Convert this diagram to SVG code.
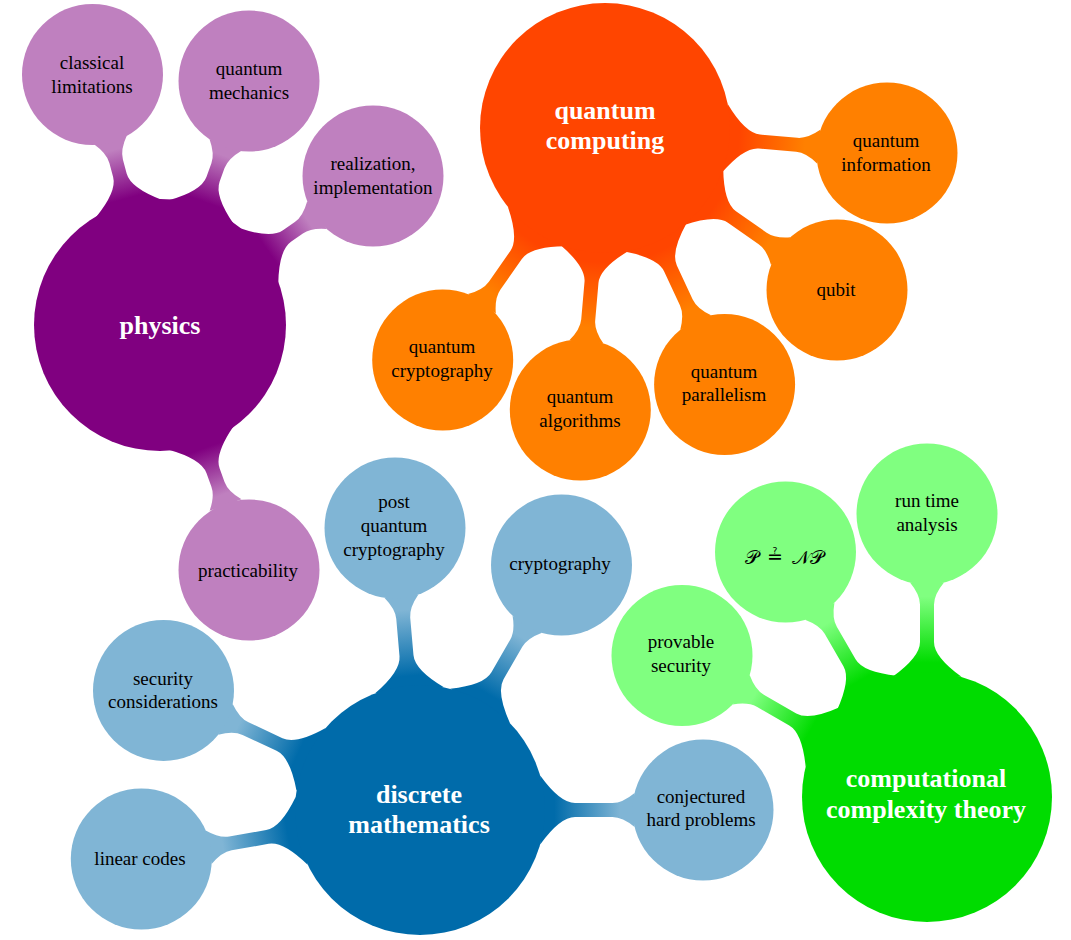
<svg xmlns="http://www.w3.org/2000/svg" width="1071" height="940" viewBox="0 0 1071 940">
<style>
.c{font-family:"Liberation Serif","Times New Roman",serif;font-size:19px;fill:#000;text-anchor:middle}
.r{font-family:"Liberation Serif","Times New Roman",serif;font-size:26px;font-weight:bold;fill:#fff;text-anchor:middle}
.m{font-family:"DejaVu Serif","DejaVu Sans","Liberation Serif",serif;font-size:19px;fill:#000;text-anchor:middle}
</style>
<defs>
<linearGradient id="gP"><stop offset="0.15" stop-color="#800080"/><stop offset="0.85" stop-color="#BF80BF"/></linearGradient>
<linearGradient id="gQ"><stop offset="0.15" stop-color="#FF4500"/><stop offset="0.85" stop-color="#FF8000"/></linearGradient>
<linearGradient id="gD"><stop offset="0.15" stop-color="#006BAA"/><stop offset="0.85" stop-color="#80B5D5"/></linearGradient>
<linearGradient id="gC"><stop offset="0.15" stop-color="#00DC00"/><stop offset="0.85" stop-color="#80FF80"/></linearGradient>
</defs>
<rect width="1071" height="940" fill="#fff"/>
<g id="connectors">
<path d="M120.2,34.5 Q140,7 155,7 L169.5,7 Q179.5,7 191.6,17 L191.6,-17 Q179.5,-7 169.5,-7 L155,-7 Q140,-7 120.2,-34.5 Z" fill="url(#gP)" transform="translate(160,325) rotate(-105)"/>
<path d="M120.2,34.5 Q140,7 155,7 L169.5,7 Q179.5,7 191.6,17 L191.6,-17 Q179.5,-7 169.5,-7 L155,-7 Q140,-7 120.2,-34.5 Z" fill="url(#gP)" transform="translate(160,325) rotate(-70)"/>
<path d="M120.2,34.5 Q140,7 155,7 L169.5,7 Q179.5,7 191.6,17 L191.6,-17 Q179.5,-7 169.5,-7 L155,-7 Q140,-7 120.2,-34.5 Z" fill="url(#gP)" transform="translate(160,325) rotate(-35)"/>
<path d="M120.2,34.5 Q140,7 155,7 L169.5,7 Q179.5,7 191.6,17 L191.6,-17 Q179.5,-7 169.5,-7 L155,-7 Q140,-7 120.2,-34.5 Z" fill="url(#gP)" transform="translate(160,325) rotate(70)"/>
<path d="M120.2,34.5 Q140,7 155,7 L192.5,7 Q202.5,7 214.6,17 L214.6,-17 Q202.5,-7 192.5,-7 L155,-7 Q140,-7 120.2,-34.5 Z" fill="url(#gQ)" transform="translate(605,128) rotate(5)"/>
<path d="M120.2,34.5 Q140,7 155,7 L192.5,7 Q202.5,7 214.6,17 L214.6,-17 Q202.5,-7 192.5,-7 L155,-7 Q140,-7 120.2,-34.5 Z" fill="url(#gQ)" transform="translate(605,128) rotate(35)"/>
<path d="M120.2,34.5 Q140,7 155,7 L192.5,7 Q202.5,7 214.6,17 L214.6,-17 Q202.5,-7 192.5,-7 L155,-7 Q140,-7 120.2,-34.5 Z" fill="url(#gQ)" transform="translate(605,128) rotate(65)"/>
<path d="M120.2,34.5 Q140,7 155,7 L192.5,7 Q202.5,7 214.6,17 L214.6,-17 Q202.5,-7 192.5,-7 L155,-7 Q140,-7 120.2,-34.5 Z" fill="url(#gQ)" transform="translate(605,128) rotate(95)"/>
<path d="M120.2,34.5 Q140,7 155,7 L192.5,7 Q202.5,7 214.6,17 L214.6,-17 Q202.5,-7 192.5,-7 L155,-7 Q140,-7 120.2,-34.5 Z" fill="url(#gQ)" transform="translate(605,128) rotate(125)"/>
<path d="M120.2,34.5 Q140,7 155,7 L192.5,7 Q202.5,7 214.6,17 L214.6,-17 Q202.5,-7 192.5,-7 L155,-7 Q140,-7 120.2,-34.5 Z" fill="url(#gD)" transform="translate(420,810) rotate(-95)"/>
<path d="M120.2,34.5 Q140,7 155,7 L192.5,7 Q202.5,7 214.6,17 L214.6,-17 Q202.5,-7 192.5,-7 L155,-7 Q140,-7 120.2,-34.5 Z" fill="url(#gD)" transform="translate(420,810) rotate(-60)"/>
<path d="M120.2,34.5 Q140,7 155,7 L192.5,7 Q202.5,7 214.6,17 L214.6,-17 Q202.5,-7 192.5,-7 L155,-7 Q140,-7 120.2,-34.5 Z" fill="url(#gD)" transform="translate(420,810) rotate(205)"/>
<path d="M120.2,34.5 Q140,7 155,7 L192.5,7 Q202.5,7 214.6,17 L214.6,-17 Q202.5,-7 192.5,-7 L155,-7 Q140,-7 120.2,-34.5 Z" fill="url(#gD)" transform="translate(420,810) rotate(170)"/>
<path d="M120.2,34.5 Q140,7 155,7 L192.5,7 Q202.5,7 214.6,17 L214.6,-17 Q202.5,-7 192.5,-7 L155,-7 Q140,-7 120.2,-34.5 Z" fill="url(#gD)" transform="translate(420,810) rotate(0)"/>
<path d="M120.2,34.5 Q140,7 155,7 L192.5,7 Q202.5,7 214.6,17 L214.6,-17 Q202.5,-7 192.5,-7 L155,-7 Q140,-7 120.2,-34.5 Z" fill="url(#gC)" transform="translate(927,797) rotate(-90)"/>
<path d="M120.2,34.5 Q140,7 155,7 L192.5,7 Q202.5,7 214.6,17 L214.6,-17 Q202.5,-7 192.5,-7 L155,-7 Q140,-7 120.2,-34.5 Z" fill="url(#gC)" transform="translate(927,797) rotate(-120)"/>
<path d="M120.2,34.5 Q140,7 155,7 L192.5,7 Q202.5,7 214.6,17 L214.6,-17 Q202.5,-7 192.5,-7 L155,-7 Q140,-7 120.2,-34.5 Z" fill="url(#gC)" transform="translate(927,797) rotate(-150)"/>
</g>
<g id="physics"><circle cx="160" cy="325" r="126" fill="#800080"/><text class="r" x="160" y="334">physics</text></g>
<g id="classical-limitations"><circle cx="92.5" cy="74.5" r="70.5" fill="#BF80BF"/><text class="c" x="92" y="68.5">classical</text><text class="c" x="92" y="92.5">limitations</text></g>
<g id="quantum-mechanics"><circle cx="249" cy="81" r="70.5" fill="#BF80BF"/><text class="c" x="249" y="75">quantum</text><text class="c" x="249" y="99">mechanics</text></g>
<g id="realization"><circle cx="373" cy="176" r="70.5" fill="#BF80BF"/><text class="c" x="373" y="170">realization,</text><text class="c" x="373" y="194">implementation</text></g>
<g id="practicability"><circle cx="249" cy="570" r="70.5" fill="#BF80BF"/><text class="c" x="248" y="577">practicability</text></g>
<g id="quantum-computing"><circle cx="605" cy="128" r="125" fill="#FF4500"/><text class="r" x="605" y="119">quantum</text><text class="r" x="605" y="149">computing</text></g>
<g id="quantum-information"><circle cx="887" cy="153" r="70.5" fill="#FF8000"/><text class="c" x="886" y="147">quantum</text><text class="c" x="886" y="171">information</text></g>
<g id="qubit"><circle cx="837" cy="290" r="70.5" fill="#FF8000"/><text class="c" x="836" y="296">qubit</text></g>
<g id="quantum-parallelism"><circle cx="724.6" cy="384.5" r="70.5" fill="#FF8000"/><text class="c" x="724" y="378">quantum</text><text class="c" x="724" y="401">parallelism</text></g>
<g id="quantum-algorithms"><circle cx="580.3" cy="410" r="70.5" fill="#FF8000"/><text class="c" x="580" y="403">quantum</text><text class="c" x="580" y="427">algorithms</text></g>
<g id="quantum-cryptography"><circle cx="442.7" cy="360" r="70.5" fill="#FF8000"/><text class="c" x="442" y="353">quantum</text><text class="c" x="442" y="377">cryptography</text></g>
<g id="discrete-mathematics"><circle cx="420" cy="810" r="125" fill="#006BAA"/><text class="r" x="419" y="803">discrete</text><text class="r" x="419" y="833">mathematics</text></g>
<g id="post-quantum-cryptography"><circle cx="395" cy="528" r="70.5" fill="#80B5D5"/><text class="c" x="394" y="508">post</text><text class="c" x="394" y="532">quantum</text><text class="c" x="394" y="556">cryptography</text></g>
<g id="cryptography"><circle cx="561.5" cy="565" r="70.5" fill="#80B5D5"/><text class="c" x="560" y="570">cryptography</text></g>
<g id="security-considerations"><circle cx="163.5" cy="690.4" r="70.5" fill="#80B5D5"/><text class="c" x="163" y="685">security</text><text class="c" x="163" y="708">considerations</text></g>
<g id="linear-codes"><circle cx="141.3" cy="859" r="70.5" fill="#80B5D5"/><text class="c" x="140" y="865">linear codes</text></g>
<g id="conjectured-hard-problems"><circle cx="703" cy="810" r="70.5" fill="#80B5D5"/><text class="c" x="701" y="803">conjectured</text><text class="c" x="701" y="826">hard problems</text></g>
<g id="computational-complexity-theory"><circle cx="927" cy="797" r="125" fill="#00DC00"/><text class="r" x="926" y="787">computational</text><text class="r" x="926" y="818">complexity theory</text></g>
<g id="run-time-analysis"><circle cx="927" cy="514" r="70.5" fill="#80FF80"/><text class="c" x="927" y="507">run time</text><text class="c" x="927" y="531">analysis</text></g>
<g id="p-np"><circle cx="785.5" cy="552" r="70.5" fill="#80FF80"/><text class="m" x="752" y="564">𝒫</text><text class="m" x="775" y="563">≟</text><text class="m" x="808" y="564">𝒩𝒫</text></g>
<g id="provable-security"><circle cx="682" cy="655.5" r="70.5" fill="#80FF80"/><text class="c" x="681" y="648">provable</text><text class="c" x="681" y="672">security</text></g>
</svg>
